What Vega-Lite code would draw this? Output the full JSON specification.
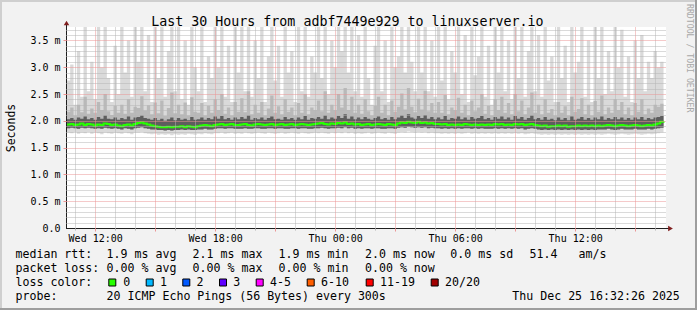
{
"$schema": "https://vega.github.io/schema/vega-lite/v6.json",
"width": 600,
"height": 201,
"autosize": "none",
"padding": {"left": 66, "top": 27, "right": 31, "bottom": 82},
"background": "#f2f2f2",
"config": {"view": {"fill": "#ffffff", "stroke": null}},
"title": {"text": "Last 30 Hours from adbf7449e929 to linuxserver.io", "font": "DejaVu Sans Mono", "fontSize": 13.3, "fontWeight": "normal", "color": "#000000", "anchor": "middle", "frame": "group", "dx": -18.6, "offset": -40, "baseline": "alphabetic"},
"datasets": {
"smoke": [
{"t":"2025-12-24T10:35","mn":1.78,"q1":1.86,"md":1.93,"q3":2.03,"p9":2.17,"mx":2.75},
{"t":"2025-12-24T10:45","mn":1.77,"q1":1.87,"md":1.94,"q3":2.05,"p9":2.25,"mx":3.05},
{"t":"2025-12-24T10:55","mn":1.79,"q1":1.86,"md":1.92,"q3":2.02,"p9":2.1,"mx":2.3},
{"t":"2025-12-24T11:05","mn":1.76,"q1":1.85,"md":1.93,"q3":2.06,"p9":2.3,"mx":3.3},
{"t":"2025-12-24T11:15","mn":1.78,"q1":1.87,"md":1.95,"q3":2.04,"p9":2.16,"mx":2.45},
{"t":"2025-12-24T11:25","mn":1.77,"q1":1.86,"md":1.92,"q3":2.08,"p9":2.45,"mx":3.9},
{"t":"2025-12-24T11:35","mn":1.79,"q1":1.87,"md":1.94,"q3":2.03,"p9":2.13,"mx":2.55},
{"t":"2025-12-24T11:45","mn":1.76,"q1":1.86,"md":1.93,"q3":2.05,"p9":2.23,"mx":3.1},
{"t":"2025-12-24T11:55","mn":1.78,"q1":1.85,"md":1.91,"q3":2.02,"p9":2.15,"mx":2.4},
{"t":"2025-12-24T12:05","mn":1.77,"q1":1.86,"md":1.93,"q3":2.07,"p9":2.35,"mx":3.9},
{"t":"2025-12-24T12:15","mn":1.75,"q1":1.85,"md":1.92,"q3":2.04,"p9":2.2,"mx":3.0},
{"t":"2025-12-24T12:25","mn":1.78,"q1":1.87,"md":1.95,"q3":2.1,"p9":2.5,"mx":3.9},
{"t":"2025-12-24T12:35","mn":1.77,"q1":1.86,"md":1.94,"q3":2.04,"p9":2.18,"mx":2.8},
{"t":"2025-12-24T12:45","mn":1.76,"q1":1.85,"md":1.92,"q3":2.03,"p9":2.11,"mx":2.35},
{"t":"2025-12-24T12:55","mn":1.78,"q1":1.86,"md":1.93,"q3":2.06,"p9":2.28,"mx":3.4},
{"t":"2025-12-24T13:05","mn":1.77,"q1":1.85,"md":1.91,"q3":2.02,"p9":2.15,"mx":2.5},
{"t":"2025-12-24T13:15","mn":1.76,"q1":1.84,"md":1.9,"q3":2.05,"p9":2.3,"mx":3.9},
{"t":"2025-12-24T13:25","mn":1.78,"q1":1.86,"md":1.92,"q3":2.03,"p9":2.13,"mx":2.9},
{"t":"2025-12-24T13:35","mn":1.77,"q1":1.85,"md":1.93,"q3":2.08,"p9":2.4,"mx":3.5},
{"t":"2025-12-24T13:45","mn":1.75,"q1":1.84,"md":1.91,"q3":2.02,"p9":2.15,"mx":2.45},
{"t":"2025-12-24T13:55","mn":1.78,"q1":1.86,"md":1.94,"q3":2.06,"p9":2.26,"mx":3.9},
{"t":"2025-12-24T14:05","mn":1.78,"q1":1.87,"md":1.96,"q3":2.07,"p9":2.24,"mx":3.1},
{"t":"2025-12-24T14:15","mn":1.79,"q1":1.88,"md":1.97,"q3":2.1,"p9":2.46,"mx":3.9},
{"t":"2025-12-24T14:25","mn":1.77,"q1":1.86,"md":1.95,"q3":2.05,"p9":2.19,"mx":2.55},
{"t":"2025-12-24T14:35","mn":1.76,"q1":1.85,"md":1.93,"q3":2.04,"p9":2.29,"mx":3.6},
{"t":"2025-12-24T14:45","mn":1.75,"q1":1.84,"md":1.91,"q3":2.02,"p9":2.12,"mx":2.35},
{"t":"2025-12-24T14:55","mn":1.76,"q1":1.84,"md":1.9,"q3":2.05,"p9":2.34,"mx":3.9},
{"t":"2025-12-24T15:05","mn":1.74,"q1":1.83,"md":1.89,"q3":2.01,"p9":2.14,"mx":2.8},
{"t":"2025-12-24T15:15","mn":1.75,"q1":1.83,"md":1.88,"q3":2.04,"p9":2.38,"mx":3.9},
{"t":"2025-12-24T15:25","mn":1.74,"q1":1.82,"md":1.88,"q3":2.0,"p9":2.09,"mx":2.45},
{"t":"2025-12-24T15:35","mn":1.75,"q1":1.83,"md":1.89,"q3":2.03,"p9":2.24,"mx":3.3},
{"t":"2025-12-24T15:45","mn":1.73,"q1":1.82,"md":1.88,"q3":2.06,"p9":2.53,"mx":3.9},
{"t":"2025-12-24T15:55","mn":1.75,"q1":1.83,"md":1.89,"q3":2.01,"p9":2.14,"mx":2.55},
{"t":"2025-12-24T16:05","mn":1.74,"q1":1.83,"md":1.89,"q3":2.05,"p9":2.3,"mx":3.9},
{"t":"2025-12-24T16:15","mn":1.75,"q1":1.84,"md":1.9,"q3":2.02,"p9":2.12,"mx":2.4},
{"t":"2025-12-24T16:25","mn":1.74,"q1":1.83,"md":1.88,"q3":2.04,"p9":2.34,"mx":3.5},
{"t":"2025-12-24T16:35","mn":1.76,"q1":1.84,"md":1.9,"q3":2.01,"p9":2.1,"mx":2.3},
{"t":"2025-12-24T16:45","mn":1.75,"q1":1.83,"md":1.89,"q3":2.07,"p9":2.44,"mx":3.9},
{"t":"2025-12-24T16:55","mn":1.74,"q1":1.83,"md":1.88,"q3":2.02,"p9":2.17,"mx":3.0},
{"t":"2025-12-24T17:05","mn":1.76,"q1":1.84,"md":1.9,"q3":2.03,"p9":2.15,"mx":2.55},
{"t":"2025-12-24T17:15","mn":1.75,"q1":1.84,"md":1.91,"q3":2.06,"p9":2.33,"mx":3.9},
{"t":"2025-12-24T17:25","mn":1.77,"q1":1.85,"md":1.92,"q3":2.02,"p9":2.1,"mx":2.35},
{"t":"2025-12-24T17:35","mn":1.76,"q1":1.84,"md":1.91,"q3":2.05,"p9":2.28,"mx":3.2},
{"t":"2025-12-24T17:45","mn":1.75,"q1":1.84,"md":1.9,"q3":2.03,"p9":2.15,"mx":2.8},
{"t":"2025-12-24T17:55","mn":1.77,"q1":1.85,"md":1.92,"q3":2.08,"p9":2.4,"mx":3.9},
{"t":"2025-12-24T18:05","mn":1.77,"q1":1.86,"md":1.93,"q3":2.04,"p9":2.2,"mx":3.0},
{"t":"2025-12-24T18:15","mn":1.78,"q1":1.86,"md":1.94,"q3":2.09,"p9":2.5,"mx":3.9},
{"t":"2025-12-24T18:25","mn":1.76,"q1":1.85,"md":1.92,"q3":2.03,"p9":2.13,"mx":2.45},
{"t":"2025-12-24T18:35","mn":1.77,"q1":1.86,"md":1.93,"q3":2.05,"p9":2.25,"mx":3.4},
{"t":"2025-12-24T18:45","mn":1.78,"q1":1.86,"md":1.94,"q3":2.02,"p9":2.1,"mx":2.35},
{"t":"2025-12-24T18:55","mn":1.76,"q1":1.85,"md":1.92,"q3":2.06,"p9":2.35,"mx":3.9},
{"t":"2025-12-24T19:05","mn":1.77,"q1":1.85,"md":1.92,"q3":2.03,"p9":2.17,"mx":2.9},
{"t":"2025-12-24T19:15","mn":1.76,"q1":1.85,"md":1.93,"q3":2.07,"p9":2.42,"mx":3.9},
{"t":"2025-12-24T19:25","mn":1.78,"q1":1.86,"md":1.94,"q3":2.04,"p9":2.16,"mx":2.55},
{"t":"2025-12-24T19:35","mn":1.77,"q1":1.85,"md":1.92,"q3":2.1,"p9":2.55,"mx":3.9},
{"t":"2025-12-24T19:45","mn":1.76,"q1":1.85,"md":1.91,"q3":2.02,"p9":2.12,"mx":2.45},
{"t":"2025-12-24T19:55","mn":1.77,"q1":1.86,"md":1.93,"q3":2.05,"p9":2.3,"mx":3.5},
{"t":"2025-12-24T20:05","mn":1.78,"q1":1.86,"md":1.94,"q3":2.03,"p9":2.15,"mx":2.8},
{"t":"2025-12-24T20:15","mn":1.77,"q1":1.85,"md":1.93,"q3":2.06,"p9":2.35,"mx":3.9},
{"t":"2025-12-24T20:25","mn":1.76,"q1":1.85,"md":1.92,"q3":2.02,"p9":2.1,"mx":2.35},
{"t":"2025-12-24T20:35","mn":1.78,"q1":1.86,"md":1.93,"q3":2.05,"p9":2.23,"mx":3.2},
{"t":"2025-12-24T20:45","mn":1.77,"q1":1.86,"md":1.94,"q3":2.08,"p9":2.47,"mx":3.9},
{"t":"2025-12-24T20:55","mn":1.76,"q1":1.85,"md":1.92,"q3":2.03,"p9":2.15,"mx":2.75},
{"t":"2025-12-24T21:05","mn":1.77,"q1":1.86,"md":1.93,"q3":2.04,"p9":2.27,"mx":3.4},
{"t":"2025-12-24T21:15","mn":1.78,"q1":1.86,"md":1.94,"q3":2.02,"p9":2.12,"mx":2.45},
{"t":"2025-12-24T21:25","mn":1.76,"q1":1.85,"md":1.92,"q3":2.07,"p9":2.4,"mx":3.9},
{"t":"2025-12-24T21:35","mn":1.77,"q1":1.85,"md":1.93,"q3":2.03,"p9":2.17,"mx":2.9},
{"t":"2025-12-24T21:45","mn":1.78,"q1":1.86,"md":1.94,"q3":2.05,"p9":2.25,"mx":3.3},
{"t":"2025-12-24T21:55","mn":1.77,"q1":1.86,"md":1.92,"q3":2.02,"p9":2.1,"mx":2.35},
{"t":"2025-12-24T22:05","mn":1.76,"q1":1.85,"md":1.93,"q3":2.06,"p9":2.33,"mx":3.9},
{"t":"2025-12-24T22:15","mn":1.78,"q1":1.86,"md":1.94,"q3":2.03,"p9":2.15,"mx":2.55},
{"t":"2025-12-24T22:25","mn":1.77,"q1":1.86,"md":1.93,"q3":2.09,"p9":2.5,"mx":3.9},
{"t":"2025-12-24T22:35","mn":1.76,"q1":1.85,"md":1.92,"q3":2.02,"p9":2.12,"mx":2.45},
{"t":"2025-12-24T22:45","mn":1.77,"q1":1.85,"md":1.93,"q3":2.05,"p9":2.25,"mx":3.2},
{"t":"2025-12-24T22:55","mn":1.78,"q1":1.86,"md":1.94,"q3":2.04,"p9":2.2,"mx":2.9},
{"t":"2025-12-24T23:05","mn":1.77,"q1":1.86,"md":1.95,"q3":2.07,"p9":2.38,"mx":3.9},
{"t":"2025-12-24T23:15","mn":1.78,"q1":1.87,"md":1.96,"q3":2.04,"p9":2.18,"mx":2.8},
{"t":"2025-12-24T23:25","mn":1.77,"q1":1.86,"md":1.94,"q3":2.1,"p9":2.55,"mx":3.9},
{"t":"2025-12-24T23:35","mn":1.76,"q1":1.85,"md":1.93,"q3":2.03,"p9":2.15,"mx":2.5},
{"t":"2025-12-24T23:45","mn":1.78,"q1":1.86,"md":1.95,"q3":2.06,"p9":2.3,"mx":3.5},
{"t":"2025-12-24T23:55","mn":1.77,"q1":1.86,"md":1.94,"q3":2.04,"p9":2.2,"mx":3.0},
{"t":"2025-12-25T00:05","mn":1.78,"q1":1.87,"md":1.96,"q3":2.09,"p9":2.5,"mx":3.9},
{"t":"2025-12-25T00:15","mn":1.77,"q1":1.86,"md":1.95,"q3":2.05,"p9":2.25,"mx":3.3},
{"t":"2025-12-25T00:25","mn":1.79,"q1":1.88,"md":1.97,"q3":2.12,"p9":2.61,"mx":3.9},
{"t":"2025-12-25T00:35","mn":1.77,"q1":1.86,"md":1.94,"q3":2.04,"p9":2.2,"mx":2.9},
{"t":"2025-12-25T00:45","mn":1.78,"q1":1.87,"md":1.95,"q3":2.08,"p9":2.45,"mx":3.9},
{"t":"2025-12-25T00:55","mn":1.76,"q1":1.85,"md":1.93,"q3":2.03,"p9":2.15,"mx":2.55},
{"t":"2025-12-25T01:05","mn":1.77,"q1":1.86,"md":1.94,"q3":2.06,"p9":2.3,"mx":3.6},
{"t":"2025-12-25T01:15","mn":1.76,"q1":1.85,"md":1.92,"q3":2.03,"p9":2.13,"mx":2.45},
{"t":"2025-12-25T01:25","mn":1.77,"q1":1.86,"md":1.93,"q3":2.07,"p9":2.4,"mx":3.9},
{"t":"2025-12-25T01:35","mn":1.78,"q1":1.86,"md":1.94,"q3":2.04,"p9":2.18,"mx":2.8},
{"t":"2025-12-25T01:45","mn":1.76,"q1":1.85,"md":1.92,"q3":2.02,"p9":2.1,"mx":2.3},
{"t":"2025-12-25T01:55","mn":1.77,"q1":1.86,"md":1.93,"q3":2.05,"p9":2.28,"mx":3.4},
{"t":"2025-12-25T02:05","mn":1.78,"q1":1.86,"md":1.94,"q3":2.08,"p9":2.45,"mx":3.9},
{"t":"2025-12-25T02:15","mn":1.77,"q1":1.85,"md":1.93,"q3":2.03,"p9":2.15,"mx":2.55},
{"t":"2025-12-25T02:25","mn":1.76,"q1":1.85,"md":1.92,"q3":2.05,"p9":2.3,"mx":3.5},
{"t":"2025-12-25T02:35","mn":1.78,"q1":1.86,"md":1.94,"q3":2.02,"p9":2.1,"mx":2.35},
{"t":"2025-12-25T02:45","mn":1.77,"q1":1.86,"md":1.93,"q3":2.07,"p9":2.38,"mx":3.9},
{"t":"2025-12-25T02:55","mn":1.76,"q1":1.85,"md":1.92,"q3":2.03,"p9":2.17,"mx":3.0},
{"t":"2025-12-25T03:05","mn":1.78,"q1":1.87,"md":1.95,"q3":2.06,"p9":2.26,"mx":3.2},
{"t":"2025-12-25T03:15","mn":1.79,"q1":1.88,"md":1.97,"q3":2.1,"p9":2.51,"mx":3.9},
{"t":"2025-12-25T03:25","mn":1.78,"q1":1.87,"md":1.96,"q3":2.05,"p9":2.21,"mx":2.9},
{"t":"2025-12-25T03:35","mn":1.8,"q1":1.89,"md":1.98,"q3":2.12,"p9":2.61,"mx":3.9},
{"t":"2025-12-25T03:45","mn":1.79,"q1":1.88,"md":1.97,"q3":2.06,"p9":2.26,"mx":3.1},
{"t":"2025-12-25T03:55","mn":1.78,"q1":1.87,"md":1.96,"q3":2.04,"p9":2.16,"mx":2.55},
{"t":"2025-12-25T04:05","mn":1.79,"q1":1.88,"md":1.98,"q3":2.09,"p9":2.41,"mx":3.9},
{"t":"2025-12-25T04:15","mn":1.78,"q1":1.87,"md":1.96,"q3":2.05,"p9":2.21,"mx":2.9},
{"t":"2025-12-25T04:25","mn":1.79,"q1":1.88,"md":1.97,"q3":2.11,"p9":2.56,"mx":3.9},
{"t":"2025-12-25T04:35","mn":1.77,"q1":1.86,"md":1.95,"q3":2.04,"p9":2.18,"mx":2.55},
{"t":"2025-12-25T04:45","mn":1.78,"q1":1.87,"md":1.96,"q3":2.07,"p9":2.33,"mx":3.5},
{"t":"2025-12-25T04:55","mn":1.77,"q1":1.86,"md":1.94,"q3":2.03,"p9":2.15,"mx":2.45},
{"t":"2025-12-25T05:05","mn":1.77,"q1":1.86,"md":1.94,"q3":2.06,"p9":2.35,"mx":3.9},
{"t":"2025-12-25T05:15","mn":1.76,"q1":1.85,"md":1.93,"q3":2.03,"p9":2.15,"mx":2.75},
{"t":"2025-12-25T05:25","mn":1.77,"q1":1.86,"md":1.94,"q3":2.09,"p9":2.48,"mx":3.9},
{"t":"2025-12-25T05:35","mn":1.76,"q1":1.85,"md":1.92,"q3":2.02,"p9":2.12,"mx":2.4},
{"t":"2025-12-25T05:45","mn":1.77,"q1":1.86,"md":1.93,"q3":2.05,"p9":2.25,"mx":3.3},
{"t":"2025-12-25T05:55","mn":1.76,"q1":1.85,"md":1.92,"q3":2.04,"p9":2.2,"mx":2.9},
{"t":"2025-12-25T06:05","mn":1.77,"q1":1.86,"md":1.93,"q3":2.08,"p9":2.43,"mx":3.9},
{"t":"2025-12-25T06:15","mn":1.76,"q1":1.85,"md":1.92,"q3":2.03,"p9":2.15,"mx":2.5},
{"t":"2025-12-25T06:25","mn":1.77,"q1":1.86,"md":1.94,"q3":2.06,"p9":2.3,"mx":3.6},
{"t":"2025-12-25T06:35","mn":1.78,"q1":1.86,"md":1.93,"q3":2.02,"p9":2.1,"mx":2.35},
{"t":"2025-12-25T06:45","mn":1.76,"q1":1.85,"md":1.92,"q3":2.07,"p9":2.38,"mx":3.9},
{"t":"2025-12-25T06:55","mn":1.77,"q1":1.86,"md":1.93,"q3":2.04,"p9":2.18,"mx":2.85},
{"t":"2025-12-25T07:05","mn":1.76,"q1":1.85,"md":1.92,"q3":2.05,"p9":2.25,"mx":3.2},
{"t":"2025-12-25T07:15","mn":1.77,"q1":1.86,"md":1.93,"q3":2.09,"p9":2.5,"mx":3.9},
{"t":"2025-12-25T07:25","mn":1.76,"q1":1.85,"md":1.92,"q3":2.03,"p9":2.13,"mx":2.45},
{"t":"2025-12-25T07:35","mn":1.77,"q1":1.85,"md":1.93,"q3":2.05,"p9":2.28,"mx":3.4},
{"t":"2025-12-25T07:45","mn":1.76,"q1":1.85,"md":1.92,"q3":2.02,"p9":2.1,"mx":2.3},
{"t":"2025-12-25T07:55","mn":1.77,"q1":1.86,"md":1.94,"q3":2.07,"p9":2.4,"mx":3.9},
{"t":"2025-12-25T08:05","mn":1.76,"q1":1.85,"md":1.93,"q3":2.04,"p9":2.2,"mx":2.9},
{"t":"2025-12-25T08:15","mn":1.77,"q1":1.86,"md":1.94,"q3":2.08,"p9":2.45,"mx":3.9},
{"t":"2025-12-25T08:25","mn":1.76,"q1":1.85,"md":1.92,"q3":2.03,"p9":2.15,"mx":2.55},
{"t":"2025-12-25T08:35","mn":1.77,"q1":1.86,"md":1.93,"q3":2.06,"p9":2.33,"mx":3.5},
{"t":"2025-12-25T08:45","mn":1.76,"q1":1.85,"md":1.92,"q3":2.02,"p9":2.12,"mx":2.4},
{"t":"2025-12-25T08:55","mn":1.77,"q1":1.86,"md":1.94,"q3":2.09,"p9":2.5,"mx":3.9},
{"t":"2025-12-25T09:05","mn":1.76,"q1":1.85,"md":1.93,"q3":2.04,"p9":2.18,"mx":2.8},
{"t":"2025-12-25T09:15","mn":1.77,"q1":1.86,"md":1.94,"q3":2.07,"p9":2.38,"mx":3.9},
{"t":"2025-12-25T09:25","mn":1.75,"q1":1.84,"md":1.92,"q3":2.02,"p9":2.12,"mx":2.45},
{"t":"2025-12-25T09:35","mn":1.76,"q1":1.85,"md":1.93,"q3":2.05,"p9":2.25,"mx":3.3},
{"t":"2025-12-25T09:45","mn":1.77,"q1":1.86,"md":1.94,"q3":2.1,"p9":2.53,"mx":3.9},
{"t":"2025-12-25T09:55","mn":1.76,"q1":1.85,"md":1.92,"q3":2.03,"p9":2.15,"mx":2.55},
{"t":"2025-12-25T10:05","mn":1.75,"q1":1.84,"md":1.91,"q3":2.05,"p9":2.3,"mx":3.6},
{"t":"2025-12-25T10:15","mn":1.74,"q1":1.83,"md":1.9,"q3":2.02,"p9":2.12,"mx":2.45},
{"t":"2025-12-25T10:25","mn":1.75,"q1":1.84,"md":1.91,"q3":2.07,"p9":2.4,"mx":3.9},
{"t":"2025-12-25T10:35","mn":1.74,"q1":1.83,"md":1.89,"q3":2.02,"p9":2.15,"mx":2.75},
{"t":"2025-12-25T10:45","mn":1.75,"q1":1.84,"md":1.9,"q3":2.04,"p9":2.22,"mx":3.2},
{"t":"2025-12-25T10:55","mn":1.74,"q1":1.83,"md":1.9,"q3":2.01,"p9":2.1,"mx":2.35},
{"t":"2025-12-25T11:05","mn":1.75,"q1":1.84,"md":1.91,"q3":2.06,"p9":2.35,"mx":3.9},
{"t":"2025-12-25T11:15","mn":1.74,"q1":1.83,"md":1.9,"q3":2.02,"p9":2.15,"mx":2.8},
{"t":"2025-12-25T11:25","mn":1.75,"q1":1.84,"md":1.91,"q3":2.05,"p9":2.27,"mx":3.4},
{"t":"2025-12-25T11:35","mn":1.74,"q1":1.83,"md":1.89,"q3":2.01,"p9":2.1,"mx":2.35},
{"t":"2025-12-25T11:45","mn":1.75,"q1":1.84,"md":1.9,"q3":2.08,"p9":2.45,"mx":3.9},
{"t":"2025-12-25T11:55","mn":1.74,"q1":1.83,"md":1.9,"q3":2.02,"p9":2.17,"mx":2.9},
{"t":"2025-12-25T12:05","mn":1.75,"q1":1.84,"md":1.91,"q3":2.04,"p9":2.22,"mx":3.1},
{"t":"2025-12-25T12:15","mn":1.74,"q1":1.83,"md":1.9,"q3":2.07,"p9":2.42,"mx":3.9},
{"t":"2025-12-25T12:25","mn":1.75,"q1":1.84,"md":1.91,"q3":2.02,"p9":2.12,"mx":2.45},
{"t":"2025-12-25T12:35","mn":1.74,"q1":1.83,"md":1.9,"q3":2.05,"p9":2.3,"mx":3.5},
{"t":"2025-12-25T12:45","mn":1.75,"q1":1.84,"md":1.91,"q3":2.02,"p9":2.1,"mx":2.35},
{"t":"2025-12-25T12:55","mn":1.74,"q1":1.83,"md":1.9,"q3":2.06,"p9":2.37,"mx":3.9},
{"t":"2025-12-25T13:05","mn":1.75,"q1":1.84,"md":1.91,"q3":2.03,"p9":2.17,"mx":2.8},
{"t":"2025-12-25T13:15","mn":1.74,"q1":1.84,"md":1.9,"q3":2.08,"p9":2.47,"mx":3.9},
{"t":"2025-12-25T13:25","mn":1.75,"q1":1.84,"md":1.91,"q3":2.02,"p9":2.12,"mx":2.5},
{"t":"2025-12-25T13:35","mn":1.76,"q1":1.85,"md":1.92,"q3":2.05,"p9":2.25,"mx":3.3},
{"t":"2025-12-25T13:45","mn":1.75,"q1":1.84,"md":1.91,"q3":2.03,"p9":2.15,"mx":2.55},
{"t":"2025-12-25T13:55","mn":1.74,"q1":1.83,"md":1.9,"q3":2.07,"p9":2.4,"mx":3.9},
{"t":"2025-12-25T14:05","mn":1.75,"q1":1.84,"md":1.91,"q3":2.03,"p9":2.2,"mx":3.0},
{"t":"2025-12-25T14:15","mn":1.76,"q1":1.85,"md":1.92,"q3":2.06,"p9":2.35,"mx":3.7},
{"t":"2025-12-25T14:25","mn":1.75,"q1":1.84,"md":1.91,"q3":2.02,"p9":2.12,"mx":2.45},
{"t":"2025-12-25T14:35","mn":1.74,"q1":1.84,"md":1.9,"q3":2.05,"p9":2.25,"mx":3.2},
{"t":"2025-12-25T14:45","mn":1.75,"q1":1.84,"md":1.91,"q3":2.02,"p9":2.1,"mx":2.35},
{"t":"2025-12-25T14:55","mn":1.76,"q1":1.85,"md":1.92,"q3":2.06,"p9":2.33,"mx":3.5},
{"t":"2025-12-25T15:05","mn":1.75,"q1":1.84,"md":1.91,"q3":2.03,"p9":2.17,"mx":2.8},
{"t":"2025-12-25T15:15","mn":1.74,"q1":1.84,"md":1.9,"q3":2.07,"p9":2.4,"mx":3.6},
{"t":"2025-12-25T15:25","mn":1.75,"q1":1.84,"md":1.91,"q3":2.02,"p9":2.12,"mx":2.55},
{"t":"2025-12-25T15:35","mn":1.76,"q1":1.85,"md":1.92,"q3":2.05,"p9":2.23,"mx":3.1},
{"t":"2025-12-25T15:45","mn":1.75,"q1":1.84,"md":1.91,"q3":2.03,"p9":2.15,"mx":2.8},
{"t":"2025-12-25T15:55","mn":1.76,"q1":1.85,"md":1.93,"q3":2.06,"p9":2.3,"mx":3.3},
{"t":"2025-12-25T16:05","mn":1.77,"q1":1.86,"md":1.95,"q3":2.07,"p9":2.26,"mx":3.0},
{"t":"2025-12-25T16:15","mn":1.78,"q1":1.87,"md":1.98,"q3":2.09,"p9":2.32,"mx":3.1},
{"t":"2025-12-25T16:25","mn":1.79,"q1":1.88,"md":1.99,"q3":2.1,"p9":2.3,"mx":2.9}
],
"legend": [
{"px":15.5,"py":258.3,"txt":"median rtt:"},
{"px":106.6,"py":258.3,"txt":"1.9 ms avg"},
{"px":192.6,"py":258.3,"txt":"2.1 ms max"},
{"px":278.6,"py":258.3,"txt":"1.9 ms min"},
{"px":365,"py":258.3,"txt":"2.0 ms now"},
{"px":450.3,"py":258.3,"txt":"0.0 ms sd"},
{"px":529.6,"py":258.3,"txt":"51.4"},
{"px":578.6,"py":258.3,"txt":"am/s"},
{"px":15.5,"py":272.1,"txt":"packet loss:"},
{"px":106.6,"py":272.1,"txt":"0.00 % avg"},
{"px":192.6,"py":272.1,"txt":"0.00 % max"},
{"px":278.6,"py":272.1,"txt":"0.00 % min"},
{"px":365,"py":272.1,"txt":"0.00 % now"},
{"px":15.5,"py":285.9,"txt":"loss color:"},
{"px":123.3,"py":285.9,"txt":"0"},
{"px":160,"py":285.9,"txt":"1"},
{"px":196.6,"py":285.9,"txt":"2"},
{"px":233.3,"py":285.9,"txt":"3"},
{"px":270,"py":285.9,"txt":"4-5"},
{"px":321,"py":285.9,"txt":"6-10"},
{"px":380,"py":285.9,"txt":"11-19"},
{"px":445,"py":285.9,"txt":"20/20"},
{"px":15.5,"py":299.7,"txt":"probe:"},
{"px":106.6,"py":299.7,"txt":"20 ICMP Echo Pings (56 Bytes) every 300s"},
{"px":512.3,"py":299.7,"txt":"Thu Dec 25 16:32:26 2025"}
],
"boxes": [
{"px":112.3,"py":282.5,"lab":"0"},
{"px":149.7,"py":282.5,"lab":"1"},
{"px":186.3,"py":282.5,"lab":"2"},
{"px":223,"py":282.5,"lab":"3"},
{"px":259.7,"py":282.5,"lab":"4-5"},
{"px":310.7,"py":282.5,"lab":"6-10"},
{"px":369.7,"py":282.5,"lab":"11-19"},
{"px":434.7,"py":282.5,"lab":"20/20"}
],
"axislines": [
{"px":66.5,"py":22,"px2":66.5,"py2":228.5},
{"px":66,"py":228.5,"px2":670,"py2":228.5}
],
"arrows": [
{"px":66.5,"py":23,"shape":"up"},
{"px":670.5,"py":228.5,"shape":"right"}
],
"frame": [
{"px":0,"py":1,"px2":697,"py2":1,"side":"light"},
{"px":1,"py":0,"px2":1,"py2":310,"side":"light"},
{"px":696,"py":0,"px2":696,"py2":310,"side":"dark"},
{"px":0,"py":309,"px2":697,"py2":309,"side":"dark"}
],
"credit": [
{"px":688.5,"py":4,"txt":"RRDTOOL / TOBI OETIKER"}
]
},
"layer": [
{
"data": {"name": "smoke"},
"layer": [
{
"mark": {"type": "area", "interpolate": "step-after", "clip": true, "color": "#dadada"},
"encoding": {
"x": {"field": "t", "type": "temporal",
"scale": {"domain": [{"year": 2025, "month": 12, "date": 24, "hours": 10, "minutes": 32, "seconds": 26}, {"year": 2025, "month": 12, "date": 25, "hours": 16, "minutes": 32, "seconds": 26}]},
"axis": {"orient": "bottom", "values": [
{"year":2025,"month":12,"date":24,"hours":11},{"year":2025,"month":12,"date":24,"hours":13},{"year":2025,"month":12,"date":24,"hours":14},{"year":2025,"month":12,"date":24,"hours":16},{"year":2025,"month":12,"date":24,"hours":17},{"year":2025,"month":12,"date":24,"hours":19},{"year":2025,"month":12,"date":24,"hours":20},{"year":2025,"month":12,"date":24,"hours":22},{"year":2025,"month":12,"date":24,"hours":23},
{"year":2025,"month":12,"date":25,"hours":1},{"year":2025,"month":12,"date":25,"hours":2},{"year":2025,"month":12,"date":25,"hours":4},{"year":2025,"month":12,"date":25,"hours":5},{"year":2025,"month":12,"date":25,"hours":7},{"year":2025,"month":12,"date":25,"hours":8},{"year":2025,"month":12,"date":25,"hours":10},{"year":2025,"month":12,"date":25,"hours":11},{"year":2025,"month":12,"date":25,"hours":13},{"year":2025,"month":12,"date":25,"hours":14},{"year":2025,"month":12,"date":25,"hours":16}],
"grid": true, "gridColor": "#b4b4b4", "gridDash": [1, 1], "labels": false, "domain": false, "ticks": true, "tickSize": 2, "tickColor": "#b4b4b4", "title": null, "zindex": 1}},
"y": {"field": "mn", "type": "quantitative", "scale": {"domain": [0, 3.75], "nice": false},
"axis": {"orient": "left", "values": [0.1, 0.2, 0.3, 0.4, 0.6, 0.7, 0.8, 0.9, 1.1, 1.2, 1.3, 1.4, 1.6, 1.7, 1.8, 1.9, 2.1, 2.2, 2.3, 2.4, 2.6, 2.7, 2.8, 2.9, 3.1, 3.2, 3.3, 3.4, 3.6, 3.7], "grid": true, "gridColor": "#b4b4b4", "gridDash": [1, 1], "labels": false, "domain": false, "ticks": false, "title": null, "zindex": 1}},
"y2": {"field": "mx"}
}
},
{
"mark": {"type": "area", "interpolate": "step-after", "clip": true, "color": "#b9b9b9"},
"encoding": {
"x": {"field": "t", "type": "temporal",
"axis": {"orient": "bottom", "values": [
{"year":2025,"month":12,"date":24,"hours":12},{"year":2025,"month":12,"date":24,"hours":15},{"year":2025,"month":12,"date":24,"hours":18},{"year":2025,"month":12,"date":24,"hours":21},
{"year":2025,"month":12,"date":25,"hours":0},{"year":2025,"month":12,"date":25,"hours":3},{"year":2025,"month":12,"date":25,"hours":6},{"year":2025,"month":12,"date":25,"hours":9},{"year":2025,"month":12,"date":25,"hours":12},{"year":2025,"month":12,"date":25,"hours":15}],
"grid": true, "gridColor": "#eb9595", "gridDash": [1, 1], "labels": false, "domain": false, "ticks": true, "tickSize": 3, "tickColor": "#eb9595", "title": null, "zindex": 1}},
"y": {"field": "q1", "type": "quantitative",
"axis": {"orient": "left", "values": [0.5, 1, 1.5, 2, 2.5, 3, 3.5], "grid": true, "gridColor": "#eb9595", "gridDash": [1, 1], "labels": false, "domain": false, "ticks": true, "tickSize": 3, "tickColor": "#eb9595", "title": null, "zindex": 1}},
"y2": {"field": "p9"}
}
},
{
"mark": {"type": "area", "interpolate": "step-after", "clip": true, "color": "#5e5e5e"},
"encoding": {
"x": {"field": "t", "type": "temporal",
"axis": {"orient": "bottom", "values": [
{"year":2025,"month":12,"date":24,"hours":12},{"year":2025,"month":12,"date":24,"hours":18},{"year":2025,"month":12,"date":25,"hours":0},{"year":2025,"month":12,"date":25,"hours":6},{"year":2025,"month":12,"date":25,"hours":12}],
"format": "%a %H:%M", "grid": false, "domain": false, "ticks": false, "labelPadding": 5, "labelFont": "DejaVu Sans Mono", "labelFontSize": 10, "labelColor": "#000000", "labelFlush": false, "labelOverlap": false, "title": null}},
"y": {"field": "q1", "type": "quantitative",
"axis": {"orient": "left", "values": [0, 0.5, 1, 1.5, 2, 2.5, 3, 3.5], "labelExpr": "datum.value == 0 ? '0.0' : format(datum.value, '.1f') + ' m'", "grid": false, "domain": false, "ticks": false, "labelPadding": 6, "labelFont": "DejaVu Sans Mono", "labelFontSize": 10, "labelColor": "#000000", "title": "Seconds", "titleFont": "DejaVu Sans Mono", "titleFontSize": 11.5, "titleFontWeight": "normal", "titleColor": "#000000", "titlePadding": 13}},
"y2": {"field": "q3"}
}
},
{
"mark": {"type": "line", "interpolate": "step-after", "clip": true, "color": "#26ff00", "strokeWidth": 2},
"encoding": {
"x": {"field": "t", "type": "temporal", "axis": null},
"y": {"field": "md", "type": "quantitative", "axis": null}
}
}
],
"resolve": {"axis": {"x": "independent", "y": "independent"}}
},
{
"layer": [
{
"data": {"name": "frame"},
"mark": {"type": "rule", "strokeWidth": 2, "clip": false},
"encoding": {
"x": {"field": "px", "type": "quantitative", "scale": {"domain": [66, 666], "nice": false, "zero": false}, "axis": null},
"x2": {"field": "px2"},
"y": {"field": "py", "type": "quantitative", "scale": {"domain": [27, 228], "reverse": true, "nice": false, "zero": false}, "axis": null},
"y2": {"field": "py2"},
"color": {"field": "side", "type": "nominal", "scale": {"domain": ["light", "dark"], "range": ["#cfcfcf", "#9e9e9e"]}, "legend": null}
}
},
{
"data": {"name": "axislines"},
"mark": {"type": "rule", "strokeWidth": 1, "color": "#1f1f1f", "clip": false},
"encoding": {
"x": {"field": "px", "type": "quantitative", "axis": null},
"x2": {"field": "px2"},
"y": {"field": "py", "type": "quantitative", "axis": null},
"y2": {"field": "py2"}
}
},
{
"data": {"name": "arrows"},
"mark": {"type": "point", "filled": true, "color": "#801f1f", "size": 30, "opacity": 1, "clip": false},
"encoding": {
"x": {"field": "px", "type": "quantitative", "axis": null},
"y": {"field": "py", "type": "quantitative", "axis": null},
"shape": {"field": "shape", "type": "nominal", "scale": {"domain": ["up", "right"], "range": ["triangle-up", "triangle-right"]}, "legend": null}
}
},
{
"data": {"name": "legend"},
"mark": {"type": "text", "font": "DejaVu Sans Mono", "fontSize": 11.6, "align": "left", "baseline": "alphabetic", "color": "#000000", "clip": false},
"encoding": {
"x": {"field": "px", "type": "quantitative", "axis": null},
"y": {"field": "py", "type": "quantitative", "axis": null},
"text": {"field": "txt"}
}
},
{
"data": {"name": "boxes"},
"mark": {"type": "point", "shape": "square", "filled": true, "size": 49, "stroke": "#000000", "strokeWidth": 1, "opacity": 1, "clip": false},
"encoding": {
"x": {"field": "px", "type": "quantitative", "axis": null},
"y": {"field": "py", "type": "quantitative", "axis": null},
"fill": {"field": "lab", "type": "nominal", "scale": {"domain": ["0", "1", "2", "3", "4-5", "6-10", "11-19", "20/20"], "range": ["#26ff00", "#00b8ff", "#0059ff", "#5e00ff", "#ff00ff", "#ff5e00", "#ff0000", "#a10000"]}, "legend": null}
}
},
{
"data": {"name": "credit"},
"mark": {"type": "text", "font": "DejaVu Sans Mono", "fontSize": 8.2, "angle": 90, "align": "left", "baseline": "middle", "color": "#a8a8a8", "clip": false},
"encoding": {
"x": {"field": "px", "type": "quantitative", "axis": null},
"y": {"field": "py", "type": "quantitative", "axis": null},
"text": {"field": "txt"}
}
}
]
}
],
"resolve": {"scale": {"x": "independent", "y": "independent"}}
}
